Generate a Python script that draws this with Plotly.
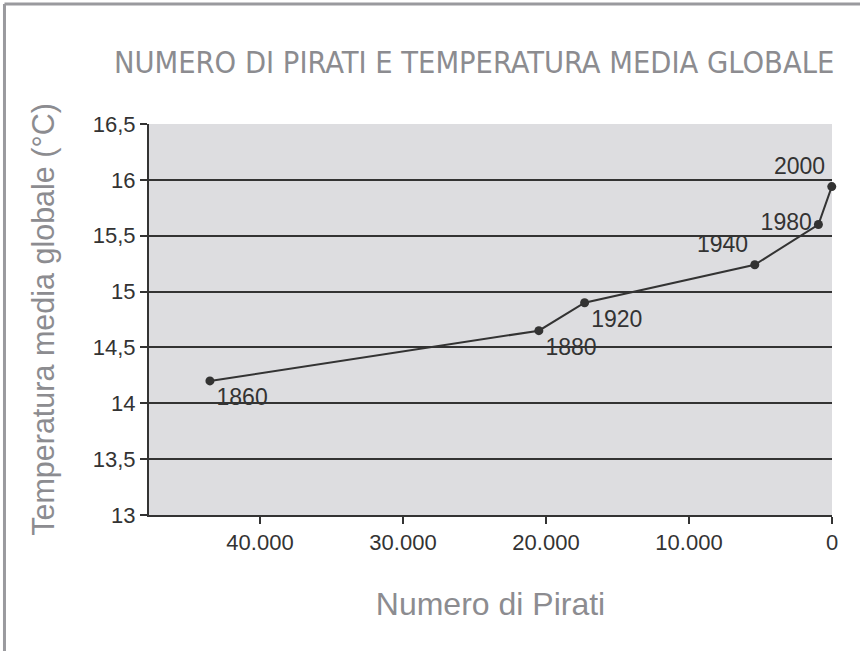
import plotly.graph_objects as go

years = ["1860", "1880", "1920", "1940", "1980", "2000"]
pirates = [43500, 20500, 17300, 5400, 950, 17]
temperature = [14.2, 14.65, 14.9, 15.24, 15.6, 15.94]
label_pos = ["bottom right", "bottom right", "bottom right", "top left", "middle left", "top left"]
x_ticks = [40000, 30000, 20000, 10000, 0]
y_ticks = [13, 13.5, 14, 14.5, 15, 15.5, 16, 16.5]

dark = "#333333"
gray = "#8c8c90"
num_font = "Liberation Sans, Arial, sans-serif"
title_font = "DejaVu Sans Condensed, Liberation Sans, sans-serif"
axis_font = "Liberation Sans, Arial, sans-serif"

fig = go.Figure()
fig.add_trace(go.Scatter(
    x=pirates, y=temperature, mode="lines+markers+text",
    text=years, textposition=label_pos,
    textfont=dict(family=num_font, size=23, color=dark),
    line=dict(color=dark, width=2),
    marker=dict(color=dark, size=9),
    showlegend=False, cliponaxis=False,
))

fig.update_layout(
    width=860, height=651,
    margin=dict(l=149, r=28, t=124, b=136),
    paper_bgcolor="white", plot_bgcolor="#dddde0",
    separators=",.",
    title=dict(text="NUMERO DI PIRATI E TEMPERATURA MEDIA GLOBALE",
               font=dict(family=title_font, size=30.5, color=gray),
               x=0.476, xanchor="center", xref="paper", y=0.905, yanchor="middle"),
    xaxis=dict(range=[47760, 0], tickvals=x_ticks, tickformat=",d",
               showgrid=False, zeroline=False,
               showline=True, linecolor=dark, linewidth=2,
               ticks="outside", ticklen=7, tickwidth=1.5, tickcolor=dark,
               tickfont=dict(family=num_font, size=22, color=dark),
               title=dict(text="Numero di Pirati", standoff=38,
                          font=dict(family=axis_font, size=32, color=gray))),
    yaxis=dict(range=[13, 16.5], tickvals=y_ticks,
               showgrid=True, gridcolor=dark, gridwidth=2, zeroline=False,
               showline=True, linecolor=dark, linewidth=2,
               ticks="outside", ticklen=7, tickwidth=1.5, tickcolor=dark,
               tickfont=dict(family=num_font, size=22, color=dark),
               title=dict(text="Temperatura media globale (°C)", standoff=29,
                          font=dict(family=axis_font, size=30.5, color=gray))),
)

fig.add_shape(type="line", xref="paper", yref="paper",
              x0=-0.2116, x1=-0.2116, y0=-0.35, y1=1.307,
              line=dict(color="#9a9a9e", width=3))
fig.add_shape(type="line", xref="paper", yref="paper",
              x0=-0.2116, x1=1.05, y0=1.307, y1=1.307,
              line=dict(color="#9a9a9e", width=3))

fig.write_html("out.html", config={"displayModeBar": False},
               post_script="document.body.style.margin='0';")
